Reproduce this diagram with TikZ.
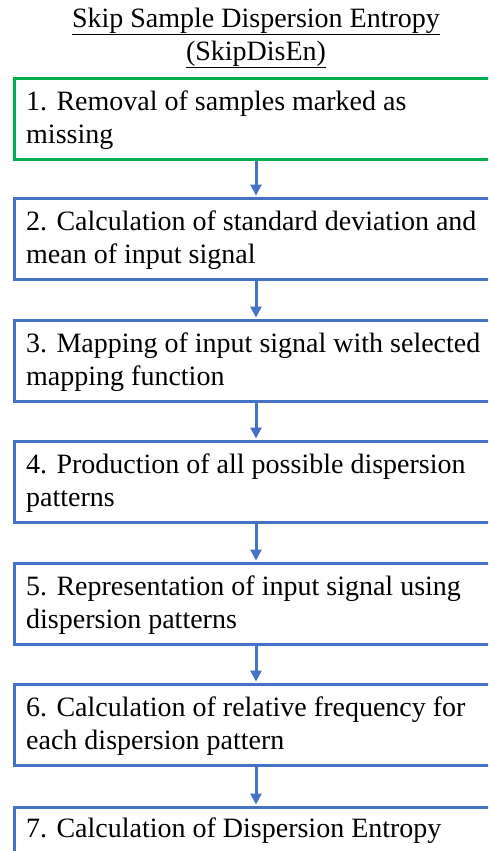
\documentclass[tikz,border=0pt]{standalone}
\usepackage{fontspec}
\setmainfont{Liberation Serif}
\usetikzlibrary{arrows.meta}
\definecolor{boxblue}{HTML}{4472C4}
\definecolor{boxgreen}{HTML}{00B050}
\newcommand{\firstline}{\rule{0pt}{20pt}}
\begin{document}
\begin{tikzpicture}[x=1pt,y=-1pt,
  stepbox/.style={draw=boxblue, line width=3pt, minimum width=527pt, minimum height=81pt, anchor=north west, inner sep=0pt},
  steptext/.style={anchor=north west, align=left, font=\fontsize{28}{33}\selectfont, inner sep=0pt},
  flow/.style={draw=boxblue, line width=3pt, shorten >=1.5pt, -{Triangle[length=11pt,width=11pt]}}]
\useasboundingbox (0,0) rectangle (488,851);
\clip (0,0) rectangle (488,851);
\fill[white] (0,0) rectangle (488,851);
\node[anchor=north, align=center, font=\fontsize{28}{33}\selectfont, inner sep=0pt] (title) at (256,7)
  {\firstline\underline{Skip Sample Dispersion Entropy}\\ \underline{(SkipDisEn)}};
\coordinate (ax) at (256,0);
\node[stepbox, draw=boxgreen] (b1) at (13,77) {};
\node[stepbox] (b2) at (13,197) {};
\node[stepbox] (b3) at (13,319) {};
\node[stepbox] (b4) at (13,440) {};
\node[stepbox] (b5) at (13,562) {};
\node[stepbox] (b6) at (13,683) {};
\node[stepbox] (b7) at (13,806) {};
\node[steptext] (t1) at (26,90) {\firstline 1. Removal of samples marked as\\ missing};
\node[steptext] (t2) at (26,210) {\firstline 2. Calculation of standard deviation and\\ mean of input signal};
\node[steptext] (t3) at (26,332) {\firstline 3. Mapping of input signal with selected\\ mapping function};
\node[steptext] (t4) at (26,453) {\firstline 4. Production of all possible dispersion\\ patterns};
\node[steptext] (t5) at (26,575) {\firstline 5. Representation of input signal using\\ dispersion patterns};
\node[steptext] (t6) at (26,696) {\firstline 6. Calculation of relative frequency for\\ each dispersion pattern};
\node[steptext] (t7) at (26,817) {\firstline 7. Calculation of Dispersion Entropy};
\foreach \a/\b in {b1/b2,b2/b3,b3/b4,b4/b5,b5/b6,b6/b7}
  \draw[flow] (\a.south -| ax) -- (\b.north -| ax);
\end{tikzpicture}
\end{document}
